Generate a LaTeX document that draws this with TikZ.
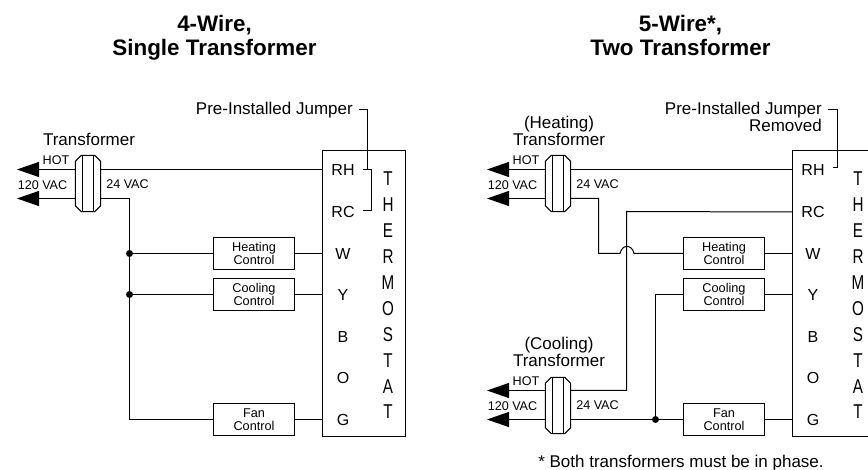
\documentclass[tikz,border=0pt]{standalone}
\usepackage{fontspec}
\setmainfont{Liberation Sans}
\newfontfamily\tallfont[FakeStretch=0.76]{Liberation Sans}
\usetikzlibrary{arrows.meta,positioning}
\tikzset{
  wire/.style={line width=1pt},
  feed/.style={wire,-{Triangle[length=22pt,width=15pt]}},
  xfmr/.style={minimum width=25pt,minimum height=56pt,inner sep=0pt},
  ctrl/.style={draw,line width=1pt,minimum width=81pt,minimum height=32pt,inner sep=0pt,align=center,font=\fontsize{12.7}{12.8}\selectfont},
  therm/.style={draw,line width=1pt,minimum width=83pt,minimum height=286pt,inner sep=0pt},
  term/.style={inner sep=0pt,font=\fontsize{16}{18}\selectfont},
  word/.style={inner sep=0pt,align=center,font=\fontsize{20}{25.9}\tallfont},
  lbl/.style={inner sep=0pt,align=center,font=\fontsize{17}{17}\selectfont},
  small/.style={inner sep=0pt,font=\fontsize{12.6}{14}\selectfont},
  title/.style={inner sep=0pt,align=center,font=\fontsize{22.4}{24}\selectfont\bfseries},
  dot/.style={circle,fill=black,inner sep=0pt,minimum size=7pt}
}
\newcommand{\xfmrbody}[1]{
  \draw[wire] ([yshift=-6pt]#1.north west) -- ([xshift=6pt]#1.north west) -- ([xshift=-6pt]#1.north east)
    -- ([yshift=-6pt]#1.north east) -- ([yshift=6pt]#1.south east) -- ([xshift=-6pt]#1.south east)
    -- ([xshift=6pt]#1.south west) -- ([yshift=6pt]#1.south west) -- cycle;
  \draw[wire] ([xshift=-5.5pt]#1.north) -- ([xshift=-5.5pt]#1.south)
    ([xshift=5.5pt]#1.north) -- ([xshift=5.5pt]#1.south);
}
\begin{document}
\begin{tikzpicture}[x=1pt,y=-1pt]
\useasboundingbox (0,0) rectangle (868,470);

% left
\node[title] (l_title) at (214.5,38) {4-Wire,\\Single Transformer};
\node[xfmr] (l_x) at (88,183.5) {};
\xfmrbody{l_x}
\node[lbl] (l_xname) at (89,139) {Transformer};
\node[small] (l_hot) at (56,160) {HOT};
\node[small] (l_120) at (42.5,185) {120 VAC};
\node[small] (l_24) at (127.5,184.5) {24 VAC};
\coordinate (l_a) at (17,169.5);
\coordinate (l_b) at (17,198.5);
\node[therm] (l_th) at (364,293.5) {};
\node[ctrl] (l_heat) at (254,253.5) {Heating\\Control};
\node[ctrl] (l_cool) at (254,294.5) {Cooling\\Control};
\node[ctrl] (l_fan) at (254,419.5) {Fan\\Control};
\foreach \n/\y in {RH/170,RC/212,W/254,Y/295,B/337,O/378,G/420}
  \node[term] (l_\n) at (343,\y) {\n};
\node[word] (l_word) at (388,295.5) {T\\H\\E\\R\\M\\O\\S\\T\\A\\T};
\node[lbl,anchor=east] (l_jtxt) at (353,110) {Pre-Installed Jumper};
\node[dot] (l_d1) at (129.5,253.5) {};
\node[dot] (l_d2) at (129.5,294.5) {};
\coordinate (l_e) at (129.5,419.5);

\draw[feed] (l_x.west |- l_a) -- (l_a);
\draw[feed] (l_x.west |- l_b) -- (l_b);
\draw[wire] (l_x.east |- l_a) -- (l_th.west |- l_a);
\draw[wire] (l_x.east |- l_b) -| (l_e) -- (l_fan);
\draw[wire] (l_d1) -- (l_heat);
\draw[wire] (l_d2) -- (l_cool);
\draw[wire] (l_heat) -- (l_th.west |- l_heat);
\draw[wire] (l_cool) -- (l_th.west |- l_cool);
\draw[wire] (l_fan) -- (l_th.west |- l_fan);
\draw[wire] (359,109.5) -- (367.5,109.5) -- (367.5,169.5);
\draw[wire] (363,169.5) -- (371.5,169.5) -- (371.5,210.5) -- (363,210.5);

% right
\node[title] (r_title) at (680.5,35) {5-Wire*,\\Two Transformer};
\node[xfmr] (r_x) at (558,183.5) {};
\xfmrbody{r_x}
\node[lbl] (r_xname) at (559,130.5) {(Heating)\\Transformer};
\node[small] (r_hot) at (526,160) {HOT};
\node[small] (r_120) at (512.5,185) {120 VAC};
\node[small] (r_24) at (597.5,184.5) {24 VAC};
\coordinate (r_a) at (487,169.5);
\coordinate (r_b) at (487,198.5);
\node[xfmr] (r_y) at (558,405.5) {};
\xfmrbody{r_y}
\node[lbl] (r_yname) at (559,352) {(Cooling)\\Transformer};
\node[small] (r_hot2) at (526,381.5) {HOT};
\node[small] (r_1202) at (512.5,406) {120 VAC};
\node[small] (r_242) at (597.5,405.5) {24 VAC};
\coordinate (r_p) at (487,390.5);
\coordinate (r_q) at (487,419.5);
\node[therm] (r_th) at (834,293.5) {};
\node[ctrl] (r_heat) at (724,253.5) {Heating\\Control};
\node[ctrl] (r_cool) at (724,294.5) {Cooling\\Control};
\node[ctrl] (r_fan) at (724,419.5) {Fan\\Control};
\foreach \n/\y in {RH/170,RC/212,W/254,Y/295,B/337,O/378,G/420}
  \node[term] (r_\n) at (813,\y) {\n};
\node[word] (r_word) at (858,295.5) {T\\H\\E\\R\\M\\O\\S\\T\\A\\T};
\node[lbl,align=right,anchor=east] (r_jtxt) at (822,116.5) {Pre-Installed Jumper\\Removed};
\node[dot] (r_d1) at (655.5,419.5) {};
\node[inner sep=0pt,font=\fontsize{17}{17}\selectfont] (r_note) at (681,463) {* Both transformers must be in phase.};

\draw[feed] (r_x.west |- r_a) -- (r_a);
\draw[feed] (r_x.west |- r_b) -- (r_b);
\draw[feed] (r_y.west |- r_p) -- (r_p);
\draw[feed] (r_y.west |- r_q) -- (r_q);
\draw[wire] (r_x.east |- r_a) -- (r_th.west |- r_a);
\draw[wire] (r_x.east |- r_b) -- (598.5,198.5) -- (598.5,253.5) -- (620,253.5)
  .. controls (622,244) and (632,244) .. (634,253.5) -- (r_heat);
\draw[wire] (r_y.east |- r_p) -- (626.5,390.5) -- (626.5,211.5) -- (r_th.west |- r_RC);
\draw[wire] (r_y.east |- r_q) -- (r_d1) -- (r_fan);
\draw[wire] (r_d1) |- (r_cool);
\draw[wire] (r_heat) -- (r_th.west |- r_heat);
\draw[wire] (r_cool) -- (r_th.west |- r_cool);
\draw[wire] (r_fan) -- (r_th.west |- r_fan);
\draw[wire] (828,109.5) -- (837.5,109.5) -- (837.5,167.5) -- (833,167.5);
\end{tikzpicture}
\end{document}
